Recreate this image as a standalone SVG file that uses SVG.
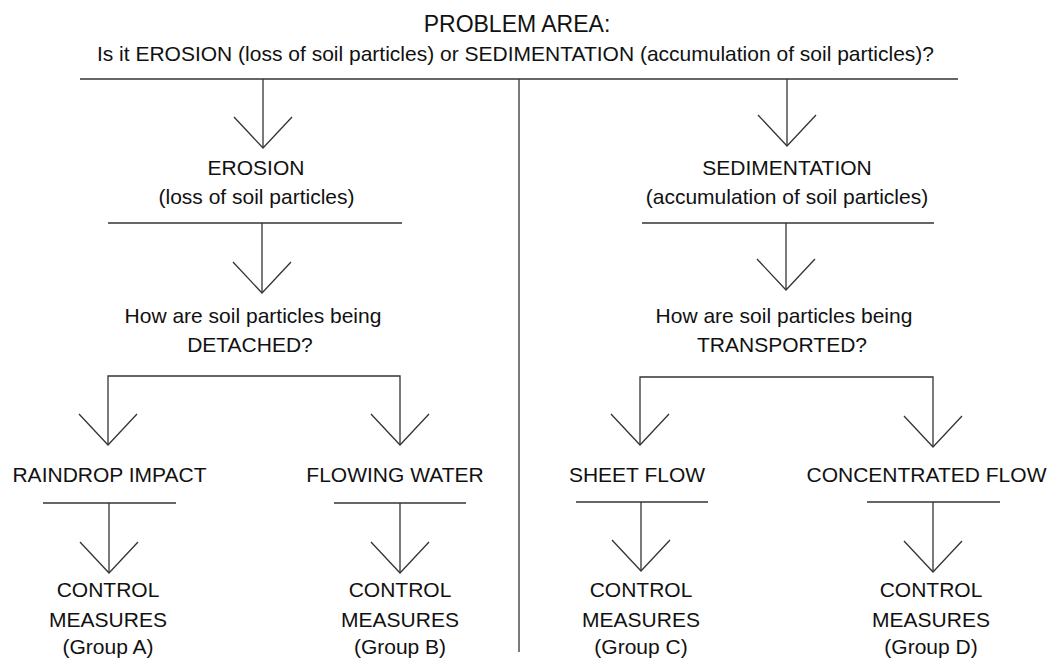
<svg xmlns="http://www.w3.org/2000/svg" width="1054" height="661" viewBox="0 0 1054 661">
<style>
text{font-family:"Liberation Sans",Arial,sans-serif;font-size:21px;fill:#111;text-anchor:middle}
.t{font-size:23px}
.c line,.c polyline{stroke:#333;stroke-width:1.3;fill:none}
</style>
<rect width="1054" height="661" fill="#fff"/>
<g class="c" id="connectors">
<line x1="80" y1="79" x2="958" y2="79"/>
<line x1="519" y1="79" x2="519" y2="652"/>
<line x1="263" y1="79" x2="263" y2="148"/><polyline points="234,117 263,148 292,117"/>
<line x1="787" y1="79" x2="787" y2="146"/><polyline points="758,115 787,146 816,115"/>
<line x1="108" y1="223" x2="402" y2="223"/>
<line x1="262" y1="223" x2="262" y2="293"/><polyline points="233,262 262,293 291,262"/>
<line x1="642" y1="223" x2="934" y2="223"/>
<line x1="786" y1="223" x2="786" y2="290"/><polyline points="757,259 786,290 815,259"/>
<polyline points="108,445 108,376 400,376 400,445"/>
<polyline points="79,414 108,445 137,414"/><polyline points="371,414 400,445 429,414"/>
<polyline points="640,445 640,377 933,377 933,447"/>
<polyline points="611,414 640,445 669,414"/><polyline points="904,416 933,447 962,416"/>
<line x1="43" y1="503" x2="176" y2="503"/>
<line x1="109" y1="503" x2="109" y2="573"/><polyline points="80,542 109,573 138,542"/>
<line x1="334" y1="503" x2="466" y2="503"/>
<line x1="400" y1="503" x2="400" y2="573"/><polyline points="371,542 400,573 429,542"/>
<line x1="576" y1="502" x2="708" y2="502"/>
<line x1="641" y1="502" x2="641" y2="571"/><polyline points="612,540 641,571 670,540"/>
<line x1="867" y1="502" x2="1000" y2="502"/>
<line x1="933" y1="502" x2="933" y2="572"/><polyline points="904,541 933,572 962,541"/>
</g>
<g id="problem">
<text class="t" x="517" y="32">PROBLEM AREA:</text>
<text x="515.5" y="61">Is it EROSION (loss of soil particles) or SEDIMENTATION (accumulation of soil particles)?</text>
</g>
<g id="erosion">
<text x="256" y="175">EROSION</text>
<text x="256.5" y="204">(loss of soil particles)</text>
</g>
<g id="sedimentation">
<text x="787" y="175">SEDIMENTATION</text>
<text x="787" y="204">(accumulation of soil particles)</text>
</g>
<g id="detached">
<text x="253" y="323">How are soil particles being</text>
<text x="250" y="352">DETACHED?</text>
</g>
<g id="transported">
<text x="784" y="323">How are soil particles being</text>
<text x="782" y="352">TRANSPORTED?</text>
</g>
<g id="raindrop"><text x="109.5" y="482">RAINDROP IMPACT</text></g>
<g id="flowing"><text x="395" y="482">FLOWING WATER</text></g>
<g id="sheet"><text x="637" y="482">SHEET FLOW</text></g>
<g id="concentrated"><text x="926.5" y="482">CONCENTRATED FLOW</text></g>
<g id="groupA"><text x="108" y="597">CONTROL</text><text x="108" y="627">MEASURES</text><text x="108" y="654">(Group A)</text></g>
<g id="groupB"><text x="400" y="597">CONTROL</text><text x="400" y="627">MEASURES</text><text x="400" y="654">(Group B)</text></g>
<g id="groupC"><text x="641" y="597">CONTROL</text><text x="641" y="627">MEASURES</text><text x="641" y="654">(Group C)</text></g>
<g id="groupD"><text x="931" y="597">CONTROL</text><text x="931" y="627">MEASURES</text><text x="931" y="654">(Group D)</text></g>
</svg>
